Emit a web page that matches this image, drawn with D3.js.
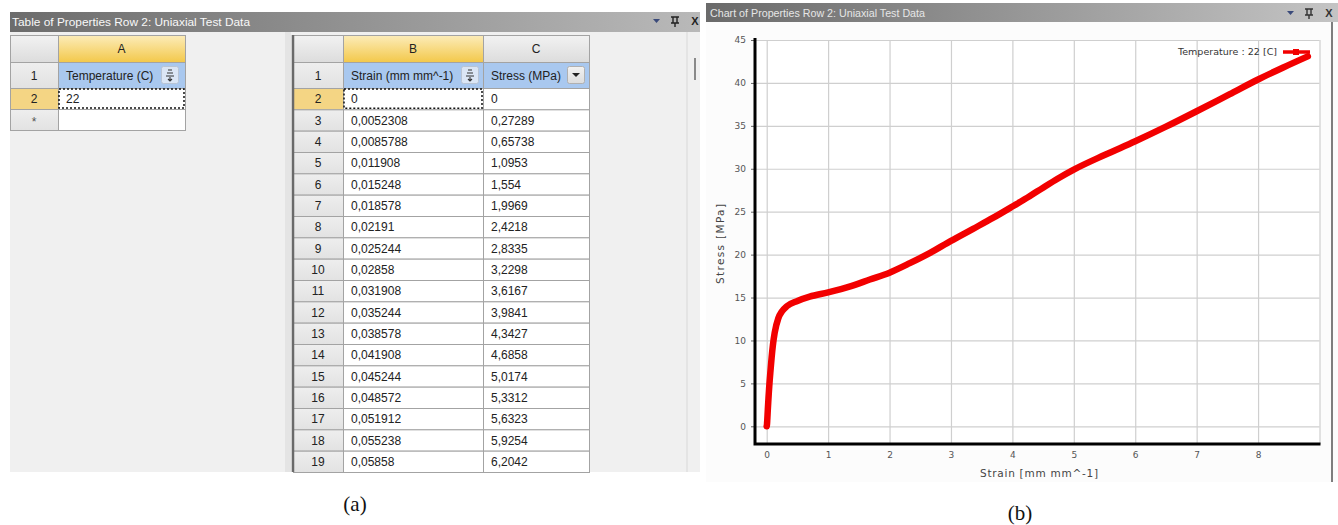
<!DOCTYPE html>
<html><head><meta charset="utf-8">
<script src="https://cdn.jsdelivr.net/npm/d3@7/dist/d3.min.js"></script>
<style>
html,body{margin:0;padding:0;background:#fff;}
</style></head>
<body><svg id="c" width="1338" height="525" style="font-family:'Liberation Sans',Arial,sans-serif"></svg>
<script>
// ---------- data ----------
const tableTitle = "Table of Properties Row 2: Uniaxial Test Data";
const chartTitle = "Chart of Properties Row 2: Uniaxial Test Data";
const tempHeader = "Temperature (C)";
const tempValues = ["22"];
const strainHeader = "Strain (mm mm^-1)";
const stressHeader = "Stress (MPa)";
const tableStrain = ["0","0,0052308","0,0085788","0,011908","0,015248","0,018578","0,02191","0,025244","0,02858","0,031908","0,035244","0,038578","0,041908","0,045244","0,048572","0,051912","0,055238","0,05858"];
const tableStress = ["0","0,27289","0,65738","1,0953","1,554","1,9969","2,4218","2,8335","3,2298","3,6167","3,9841","4,3427","4,6858","5,0174","5,3312","5,6323","5,9254","6,2042"];
const readStrain = [0.08,0.10,0.13,0.19,0.25,0.33,0.5,0.7,1.0,1.36,1.68,2.0,2.33,2.66,3.0,3.36,3.69,4.0,4.28,4.5,4.75,5.0,5.5,6.0,6.5,7.0,7.54,8.0,8.41,8.81];
const readStress = [8.0,9.4,10.9,12.6,13.4,14.0,14.6,15.1,15.6,16.3,17.1,17.9,19.0,20.2,21.6,23.0,24.3,25.6,26.8,27.8,28.9,29.9,31.6,33.2,34.9,36.7,38.7,40.4,41.8,43.1];
const xTicks = [0,1,2,3,4,5,6,7,8];
const yTicks = [0,5,10,15,20,25,30,35,40,45];
const xLabel = "Strain  [mm mm^-1]";
const yLabel = "Stress  [MPa]";
const legendLabel = "Temperature : 22 [C]";
const captions = ["(a)","(b)"];

const svg = d3.select("#c");
const defs = svg.append("defs");
function grad(id, c1, c2, horiz){
  const g = defs.append("linearGradient").attr("id",id)
    .attr("x1",0).attr("y1",0).attr("x2",horiz?1:0).attr("y2",horiz?0:1);
  g.append("stop").attr("offset","0%").attr("stop-color",c1);
  g.append("stop").attr("offset","100%").attr("stop-color",c2);
}
grad("tbar","#6c6c6c","#b9b9b9",true);
grad("cbar","#6a6a6a","#c4c4c4",true);
grad("orangeH","#fcecb9","#f3c84a",false);
grad("grayH","#f2f2f2","#dcdcdc",false);
grad("rowH","#eeeeee","#e2e2e2",false);
const DV = "'DejaVu Sans',sans-serif";

// ================= LEFT PANEL (table) =================
svg.append("rect").attr("x",10).attr("y",32).attr("width",690).attr("height",440).attr("fill","#f0f0f0");
svg.append("rect").attr("x",10).attr("y",12).attr("width",690).attr("height",20).attr("fill","url(#tbar)");
svg.append("text").attr("x",12).attr("y",26).attr("font-size",11.5).attr("fill","#f8f8f8")
  .attr("textLength",238).attr("lengthAdjust","spacingAndGlyphs").text(tableTitle);
function winIcons(g, x0, y0, col){
  g.append("path").attr("d",`M${x0-3},${y0-2}h7l-3.5,4z`).attr("fill","#3a4a7a");
  const px = x0+19;
  g.append("path").attr("d",`M${px-4},${y0-4}h8M${px-2},${y0-4}v6M${px+2},${y0-4}v6M${px-4},${y0+2}h8M${px},${y0+2}v4`)
    .attr("stroke",col).attr("stroke-width",1.4).attr("fill","none");
  g.append("text").attr("x",x0+39).attr("y",y0+4).attr("font-size",11).attr("font-weight","bold")
    .attr("text-anchor","middle").attr("fill",col).text("X");
}
winIcons(svg, 656, 21, "#222");

svg.append("line").attr("x1",687).attr("x2",687).attr("y1",32).attr("y2",472).attr("stroke","#d8d8d8");
svg.append("rect").attr("x",694).attr("y",58).attr("width",2).attr("height",22).attr("fill","#8a8a8a");
svg.append("rect").attr("x",285).attr("y",32).attr("width",6).attr("height",440).attr("fill","#e4e4e4");

const border = "#a3a3a3";
function cell(g,x,y,w,h,fill){
  g.append("rect").attr("x",x+0.5).attr("y",y+0.5).attr("width",w).attr("height",h)
    .attr("fill",fill).attr("stroke",border).attr("stroke-width",1);
}
function txt(g,x,y,s,anchor,size,col){
  return g.append("text").attr("x",x).attr("y",y).attr("font-size",size||12)
    .attr("text-anchor",anchor||"start").attr("fill",col||"#222").attr("dominant-baseline","central").text(s);
}
function sortIcon(g,x,y,bg){
  g.append("rect").attr("x",x+0.5).attr("y",y+0.5).attr("width",17).attr("height",17).attr("rx",2)
    .attr("fill",bg).attr("stroke","#b8c4d4");
  const p = `M${x+7},${y+4}h4M${x+6},${y+7}h6M${x+5},${y+10}h8M${x+9},${y+11}v4M${x+7},${y+13}l2,2l2,-2`;
  g.append("path").attr("d",p).attr("stroke","#333").attr("stroke-width",1.1).attr("fill","none");
}

// ---- Table A ----
const tA = svg.append("g");
const rowY = d3.scaleLinear().domain([2,3]).range([88,109]);
cell(tA,10,35,48,27,"url(#grayH)");
cell(tA,58,35,127,27,"url(#orangeH)");
txt(tA,121.5,49,"A","middle",12,"#222");
cell(tA,10,62,48,26,"url(#rowH)");
txt(tA,34,75.5,"1","middle");
cell(tA,58,62,127,26,"#a9c8ef");
txt(tA,66,75.5,tempHeader);
sortIcon(tA,161,66,"#dbe6f5");
tempValues.forEach((v,i)=>{
  const y = rowY(2+i), h = rowY(3+i)-rowY(2+i);
  cell(tA,10,y,48,h,"#f4d584");
  txt(tA,34,y+h/2+0.5,String(2+i),"middle");
  cell(tA,58,y,127,h,"#fff");
  txt(tA,66,y+h/2+0.5,v);
});
{
  const y = rowY(2+tempValues.length), h = 21;
  cell(tA,10,y,48,h,"url(#rowH)");
  txt(tA,34,y+h/2+2,"*","middle",12,"#555");
  cell(tA,58,y,127,h,"#fff");
}
tA.append("rect").attr("x",59).attr("y",89).attr("width",125).attr("height",19)
  .attr("fill","none").attr("stroke","#111").attr("stroke-width",1.5).attr("stroke-dasharray","2,2");

// ---- Table B/C ----
const tB = svg.append("g");
const rowB = d3.scaleLinear().domain([2,20]).range([88,472]);
cell(tB,293,35,50,27,"url(#grayH)");
cell(tB,343,35,140,27,"url(#orangeH)");
txt(tB,413,49,"B","middle");
cell(tB,483,35,106,27,"url(#grayH)");
txt(tB,536,49,"C","middle");
cell(tB,293,62,50,26,"url(#rowH)");
txt(tB,318,75.5,"1","middle");
cell(tB,343,62,140,26,"#a9c8ef");
txt(tB,351,75.5,strainHeader);
sortIcon(tB,461,66,"#dbe6f5");
cell(tB,483,62,106,26,"#a9c8ef");
txt(tB,491,75.5,stressHeader);
tB.append("rect").attr("x",567.5).attr("y",66.5).attr("width",17).attr("height",17).attr("rx",2)
  .attr("fill","url(#grayH)").attr("stroke","#b0b0b0");
tB.append("path").attr("d","M572,73h8l-4,4z").attr("fill","#222");
tableStrain.forEach((s,i)=>{
  const r = 2+i, y = rowB(r), h = rowB(r+1)-rowB(r);
  cell(tB,293,y,50,h, r===2?"#f4d584":"url(#rowH)");
  txt(tB,318,y+h/2+0.5,String(r),"middle");
  cell(tB,343,y,140,h,"#fff");
  txt(tB,351,y+h/2+0.5,s);
  cell(tB,483,y,106,h,"#fff");
  txt(tB,491,y+h/2+0.5,tableStress[i]);
});
tB.append("line").attr("x1",293).attr("x2",293).attr("y1",35).attr("y2",472).attr("stroke","#6a6a6a").attr("stroke-width",2.5);
tB.append("rect").attr("x",344).attr("y",89).attr("width",138).attr("height",19.3)
  .attr("fill","none").attr("stroke","#111").attr("stroke-width",1.5).attr("stroke-dasharray","2,2");

// ================= RIGHT PANEL (chart) =================
svg.append("rect").attr("x",706).attr("y",22).attr("width",632).attr("height",460).attr("fill","#fcfcfc");
svg.append("rect").attr("x",706).attr("y",3).attr("width",632).attr("height",19).attr("fill","url(#cbar)");
svg.append("text").attr("x",710).attr("y",16.5).attr("font-size",10.5).attr("fill","#e6e6e6")
  .attr("textLength",215).attr("lengthAdjust","spacingAndGlyphs").text(chartTitle);
winIcons(svg, 1290, 13, "#333");
svg.append("line").attr("x1",1332).attr("x2",1332).attr("y1",22).attr("y2",482).attr("stroke","#555").attr("stroke-width",1.5);

const x = d3.scaleLinear().domain([0,9]).range([766.7,1319.5]);
const y = d3.scaleLinear().domain([0,45]).range([426.3,40]);
const axX = 755, axY = 444;
const plot = svg.append("g");
plot.append("rect").attr("x",axX).attr("y",y(45)).attr("width",x(9)-axX).attr("height",axY-y(45)).attr("fill","#fff");
plot.selectAll("line.gy").data(yTicks).join("line").attr("class","gy")
  .attr("x1",axX).attr("x2",x(9)).attr("y1",d=>y(d)+0.5).attr("y2",d=>y(d)+0.5)
  .attr("stroke","#cfcfcf").attr("stroke-width",1.2);
plot.selectAll("line.gx").data(xTicks.concat([9])).join("line").attr("class","gx")
  .attr("x1",d=>x(d)+0.5).attr("x2",d=>x(d)+0.5).attr("y1",y(45)).attr("y2",axY)
  .attr("stroke","#cfcfcf").attr("stroke-width",1.2);
const yAxis = d3.axisLeft(y).tickValues(yTicks).tickSize(4).tickPadding(5).tickFormat(d3.format("d"));
const gy = svg.append("g").attr("transform",`translate(${axX},0)`).call(yAxis);
gy.select(".domain").remove();
gy.selectAll(".tick line").attr("stroke","#666");
gy.selectAll("text").attr("font-size",9).attr("fill","#555").style("font-family",DV);
const xAxis = d3.axisBottom(x).tickValues(xTicks).tickSize(0).tickPadding(8).tickFormat(d3.format("d"));
const gx = svg.append("g").attr("transform",`translate(0,${axY})`).call(xAxis);
gx.select(".domain").remove();
gx.selectAll("text").attr("font-size",9).attr("fill","#555").style("font-family",DV);
svg.append("path").attr("d",`M${axX},${y(45)-2}V${axY}H${x(9)+1}`)
  .attr("fill","none").attr("stroke","#000").attr("stroke-width",3);
svg.append("text").attr("x",1039).attr("y",477).attr("text-anchor","middle").attr("font-size",10.5)
  .attr("fill","#444").style("font-family",DV).attr("textLength",118).attr("lengthAdjust","spacing").text(xLabel);
svg.append("text").attr("transform","translate(724,244) rotate(-90)").attr("text-anchor","middle")
  .attr("font-size",10.5).attr("fill","#444").style("font-family",DV).attr("textLength",80).attr("lengthAdjust","spacing").text(yLabel);

const pts = tableStrain.map((s,i)=>[+s.replace(",","."), +tableStress[i].replace(",",".")])
  .concat(readStrain.map((s,i)=>[s, readStress[i]]));
const line = d3.line().x(d=>x(d[0])).y(d=>y(d[1])).curve(d3.curveMonotoneX);
svg.append("path").datum(pts).attr("d",line).attr("fill","none")
  .attr("stroke","#f20000").attr("stroke-width",6.5).attr("stroke-linejoin","round").attr("stroke-linecap","round");

svg.append("text").attr("x",1277).attr("y",55).attr("text-anchor","end").attr("font-size",9.5)
  .attr("fill","#333").style("font-family",DV).attr("textLength",99).attr("lengthAdjust","spacing").text(legendLabel);
svg.append("line").attr("x1",1283).attr("x2",1310).attr("y1",52).attr("y2",52).attr("stroke","#f20000").attr("stroke-width",3.5);
svg.append("rect").attr("x",1293).attr("y",49).attr("width",6).attr("height",6).attr("fill","#f20000");

svg.append("text").attr("x",355).attr("y",511).attr("text-anchor","middle").attr("font-size",21)
  .style("font-family","'Liberation Serif',serif").attr("fill","#111").text(captions[0]);
svg.append("text").attr("x",1020).attr("y",520).attr("text-anchor","middle").attr("font-size",21)
  .style("font-family","'Liberation Serif',serif").attr("fill","#111").text(captions[1]);
</script></body></html>
